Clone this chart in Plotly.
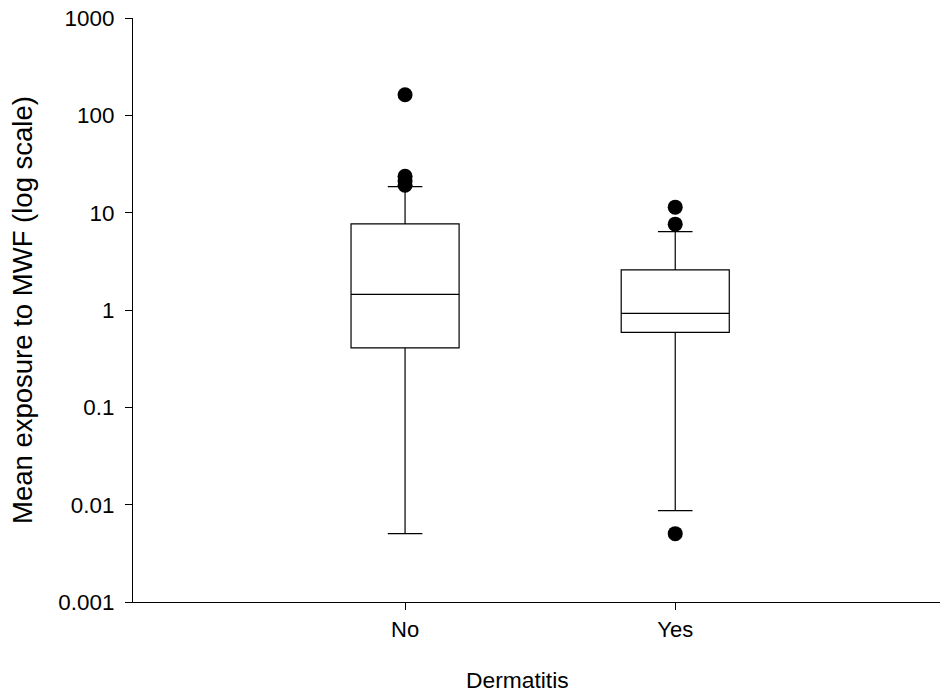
import plotly.graph_objects as go

categories = ["No", "Yes"]
positions = [1, 2]
q1 = [0.409, 0.589]
median = [1.45, 0.925]
q3 = [7.67, 2.58]
lower_fence = [0.00504, 0.00869]
upper_fence = [18.5, 6.39]

outliers_no = [163, 23.6, 21.2, 19.1]
outliers_yes = [11.4, 7.62, 0.00504]

y_tick_vals = [0.001, 0.01, 0.1, 1, 10, 100, 1000]
y_tick_text = ["0.001", "0.01", "0.1", "1", "10", "100", "1000"]

FONT = "Liberation Sans, Arial, sans-serif"

fig = go.Figure()
for i, cat in enumerate(categories):
    fig.add_trace(go.Box(
        x=[positions[i]], q1=[q1[i]], median=[median[i]], q3=[q3[i]],
        lowerfence=[lower_fence[i]], upperfence=[upper_fence[i]],
        width=0.4, whiskerwidth=0.32, boxpoints=False,
        line=dict(color="black", width=1.2), fillcolor="white",
        showlegend=False, name=cat,
    ))

fig.add_trace(go.Scatter(
    x=[positions[0]] * len(outliers_no), y=outliers_no, mode="markers",
    marker=dict(color="black", size=15), showlegend=False, cliponaxis=False))
fig.add_trace(go.Scatter(
    x=[positions[1]] * len(outliers_yes), y=outliers_yes, mode="markers",
    marker=dict(color="black", size=15), showlegend=False, cliponaxis=False))

fig.update_layout(
    width=940, height=692,
    margin=dict(l=133, r=0, t=18, b=90),
    paper_bgcolor="white", plot_bgcolor="white",
    font=dict(family=FONT, size=22, color="black"),
    xaxis=dict(
        range=[-0.007, 2.98], tickvals=positions, ticktext=categories,
        showline=True, linecolor="black", linewidth=1.2,
        ticks="outside", ticklen=7, tickcolor="black", tickwidth=1.2,
        showgrid=False, zeroline=False,
        tickfont=dict(size=22),
    ),
    yaxis=dict(
        type="log", range=[-3, 3],
        tickvals=y_tick_vals, ticktext=y_tick_text,
        showline=True, linecolor="black", linewidth=1.2,
        ticks="outside", ticklen=7, tickcolor="black", tickwidth=1.2,
        showgrid=False, zeroline=False,
        tickfont=dict(size=22.4), ticklabelstandoff=6,
    ),
    annotations=[
        dict(text="Mean exposure to MWF (log scale)", textangle=-90,
             xref="paper", yref="paper", x=(22 - 133) / 807, y=0.5,
             xanchor="center", yanchor="middle", showarrow=False,
             font=dict(size=27.5)),
        dict(text="Dermatitis",
             xref="paper", yref="paper", x=(517 - 133) / 807, y=(602 - 680) / 584,
             xanchor="center", yanchor="middle", showarrow=False,
             font=dict(size=22.8)),
    ],
)

fig.write_html("out.html")
